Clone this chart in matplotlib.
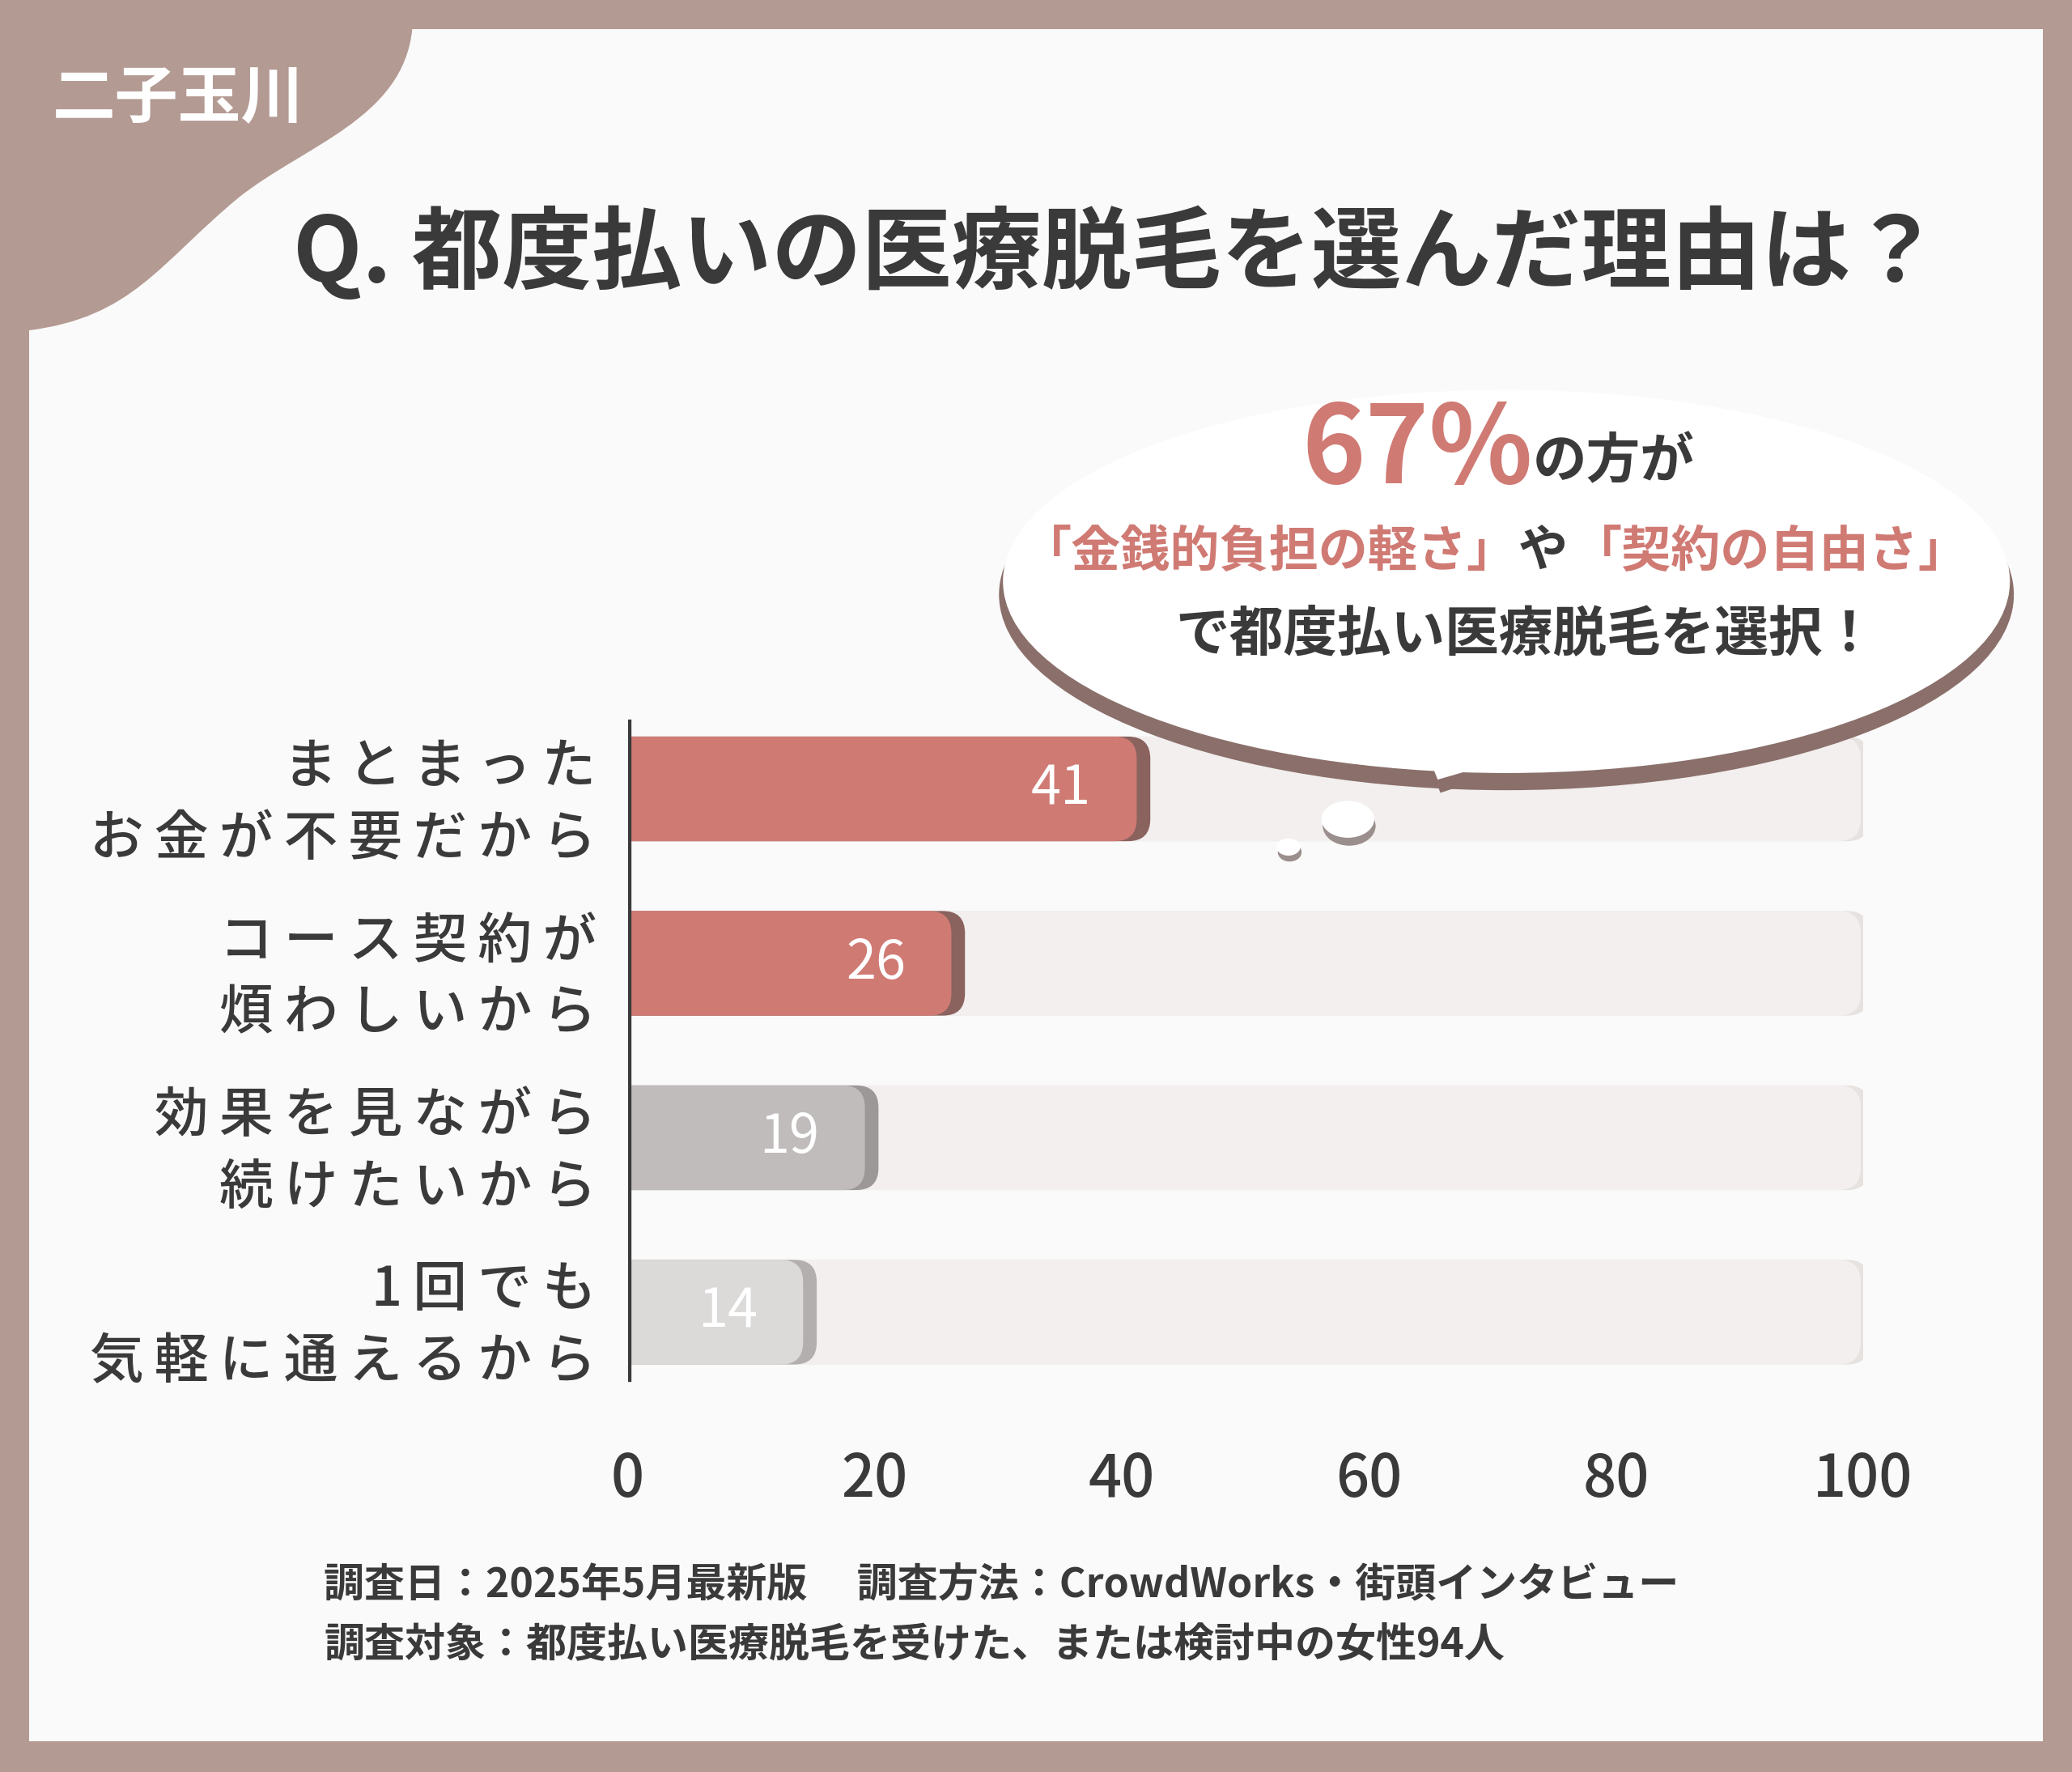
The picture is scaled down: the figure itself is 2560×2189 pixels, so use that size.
import matplotlib
matplotlib.use("Agg")
import matplotlib.pyplot as plt
from matplotlib.patches import FancyBboxPatch, Ellipse, PathPatch, Rectangle
from matplotlib.path import Path

plt.rcParams["font.family"] = ["Noto Sans CJK JP", "DejaVu Sans"]

# ── Data ──
categories = ["まとまった\nお金が不要だから", "コース契約が\n煩わしいから",
              "効果を見ながら\n続けたいから", "1回でも\n気軽に通えるから"]
values = [41, 26, 19, 14]
bar_colors = ["#d07a74", "#d07a74", "#c0bcbb", "#dcd9d9"]
shadow_colors = ["#8a625e", "#8a625e", "#9c9898", "#b3afae"]
xticks = [0, 20, 40, 60, 80, 100]

W, H = 1568, 1341  # reference layout units


def X(x):
    return x / W


def Y(y):
    return 1 - y / H


def spaced(s):
    # widen letter spacing like the reference's rounded font
    return "\n".join("\u2009".join(line) for line in s.split("\n"))


fig = plt.figure(figsize=(25.6, 21.89), dpi=100)
fig.patch.set_facecolor("#b39a92")
fig.add_artist(Rectangle((X(22), Y(1318)), X(1546) - X(22), Y(22) - Y(1318),
                         transform=fig.transFigure, facecolor="#fbfafa",
                         edgecolor="none", zorder=-2))

# top-left blob
verts = [(X(22), Y(22)), (X(312), Y(22)),
         (X(305), Y(90)), (X(230), Y(110)), (X(180), Y(150)),
         (X(120), Y(200)), (X(100), Y(240)), (X(22), Y(250)),
         (X(22), Y(22))]
codes = [Path.MOVETO, Path.LINETO, Path.CURVE4, Path.CURVE4, Path.CURVE4,
         Path.CURVE4, Path.CURVE4, Path.CURVE4, Path.CLOSEPOLY]
fig.add_artist(PathPatch(Path(verts, codes), transform=fig.transFigure,
                         facecolor="#b39a92", edgecolor="none", zorder=-1))
fig.text(X(135), Y(75), "二子玉川", color="white", fontsize=56, fontweight="bold",
         ha="center", va="center")

fig.text(X(845), Y(192), "Q. 都度払いの医療脱毛を選んだ理由は？", color="#3a3a3a",
         fontsize=80, fontweight="bold", ha="center", va="center")

# ── Bars ──
ax = fig.add_axes([X(475), Y(1059), X(1410) - X(475), Y(531) - Y(1059)])
ax.set_zorder(1)
ax.patch.set_alpha(0)
ax.set_xlim(0, 100)
ax.set_ylim(3.5, -0.5)
asp = (1 / 132) / (100 / 935)
h = 0.6
for i, (v, c, sc) in enumerate(zip(values, bar_colors, shadow_colors)):
    ax.add_patch(FancyBboxPatch((-2, i - h / 2), 102.5, h,
                 boxstyle="round,pad=0,rounding_size=1.8", mutation_aspect=asp,
                 facecolor="#e6e2e0", edgecolor="none"))
    ax.add_patch(FancyBboxPatch((-2, i - h / 2), 101.8, h,
                 boxstyle="round,pad=0,rounding_size=1.8", mutation_aspect=asp,
                 facecolor="#f2efee", edgecolor="none"))
    ax.add_patch(FancyBboxPatch((-2, i - h / 2), v + 3.3, h,
                 boxstyle="round,pad=0,rounding_size=1.8", mutation_aspect=asp,
                 facecolor=sc, edgecolor="none"))
    ax.add_patch(FancyBboxPatch((-2, i - h / 2), v + 2.2, h,
                 boxstyle="round,pad=0,rounding_size=1.8", mutation_aspect=asp,
                 facecolor=c, edgecolor="none"))
    ax.text(v - 3.5, i, str(v), color="white", fontsize=48, ha="right", va="center")
ax.axvline(0, color="#3a3a3a", lw=6, ymin=0.03, ymax=0.97)
ax.set_xticks(xticks)
ax.set_xticklabels([str(t) for t in xticks], fontsize=52, color="#3a3a3a",
                   fontweight="medium")
ax.tick_params(axis="x", length=0, pad=45)
ax.set_yticks(range(len(categories)))
ax.set_yticklabels([spaced(c) for c in categories], fontsize=48, color="#3a3a3a",
                   ha="right", linespacing=1.4, fontweight="medium")
ax.tick_params(axis="y", length=0, pad=28)
for s in ax.spines.values():
    s.set_visible(False)

# ── Speech bubble ──
shadow = "#8a6f6a"
fig.add_artist(Ellipse((X(1140), Y(450)), X(768), Y(0) - Y(296),
                       transform=fig.transFigure, facecolor=shadow, edgecolor="none", zorder=2))
tail = [(X(1075), Y(560)), (X(1090), Y(600)), (X(1150), Y(580)), (X(1075), Y(560))]
fig.add_artist(PathPatch(Path(tail), transform=fig.transFigure, facecolor=shadow,
                         edgecolor="none", zorder=2))
tail_w = [(X(1072), Y(550)), (X(1088), Y(590)), (X(1150), Y(572)), (X(1072), Y(550))]
fig.add_artist(Ellipse((X(1140), Y(440)), X(762), Y(0) - Y(290),
                       transform=fig.transFigure, facecolor="white", edgecolor="none", zorder=2.1))
fig.add_artist(PathPatch(Path(tail_w), transform=fig.transFigure, facecolor="white",
                         edgecolor="none", zorder=2.1))
fig.add_artist(Ellipse((X(1021), Y(625)), X(40), Y(0) - Y(30), transform=fig.transFigure,
                       facecolor="#9a8f8c", edgecolor="none", zorder=2))
fig.add_artist(Ellipse((X(1020), Y(620)), X(40), Y(0) - Y(28), transform=fig.transFigure,
                       facecolor="white", edgecolor="none", zorder=2.1))
fig.add_artist(Ellipse((X(976), Y(645)), X(18), Y(0) - Y(14), transform=fig.transFigure,
                       facecolor="#9a8f8c", edgecolor="none", zorder=2))
fig.add_artist(Ellipse((X(975), Y(641)), X(18), Y(0) - Y(13), transform=fig.transFigure,
                       facecolor="white", edgecolor="none", zorder=2.1))
fig.text(X(1160), Y(342), "67%", color="#d07a74", fontsize=96, fontweight="bold",
         ha="right", va="center", zorder=3)
fig.text(X(1160), Y(350), "の方が", color="#3a3a3a", fontsize=48, fontweight="bold",
         ha="left", va="center", zorder=3)
fig.text(X(1148), Y(418), "「金銭的負担の軽さ」", color="#d07a74", fontsize=44,
         fontweight="bold", ha="right", va="center", zorder=3)
fig.text(X(1149), Y(418), "や", color="#3a3a3a", fontsize=44,
         fontweight="bold", ha="left", va="center", zorder=3)
fig.text(X(1190), Y(418), "「契約の自由さ」", color="#d07a74", fontsize=44,
         fontweight="bold", ha="left", va="center", zorder=3)
fig.text(X(1155), Y(480), "で都度払い医療脱毛を選択！", color="#3a3a3a", fontsize=48,
         fontweight="bold", ha="center", va="center", zorder=3)

fig.text(X(245), Y(1200), "調査日：2025年5月最新版　 調査方法：CrowdWorks・街頭インタビュー",
         color="#3a3a3a", fontsize=36, fontweight="bold", ha="left", va="center")
fig.text(X(245), Y(1245), "調査対象：都度払い医療脱毛を受けた、または検討中の女性94人",
         color="#3a3a3a", fontsize=36, fontweight="bold", ha="left", va="center")

fig.savefig("out.png", dpi=100)
